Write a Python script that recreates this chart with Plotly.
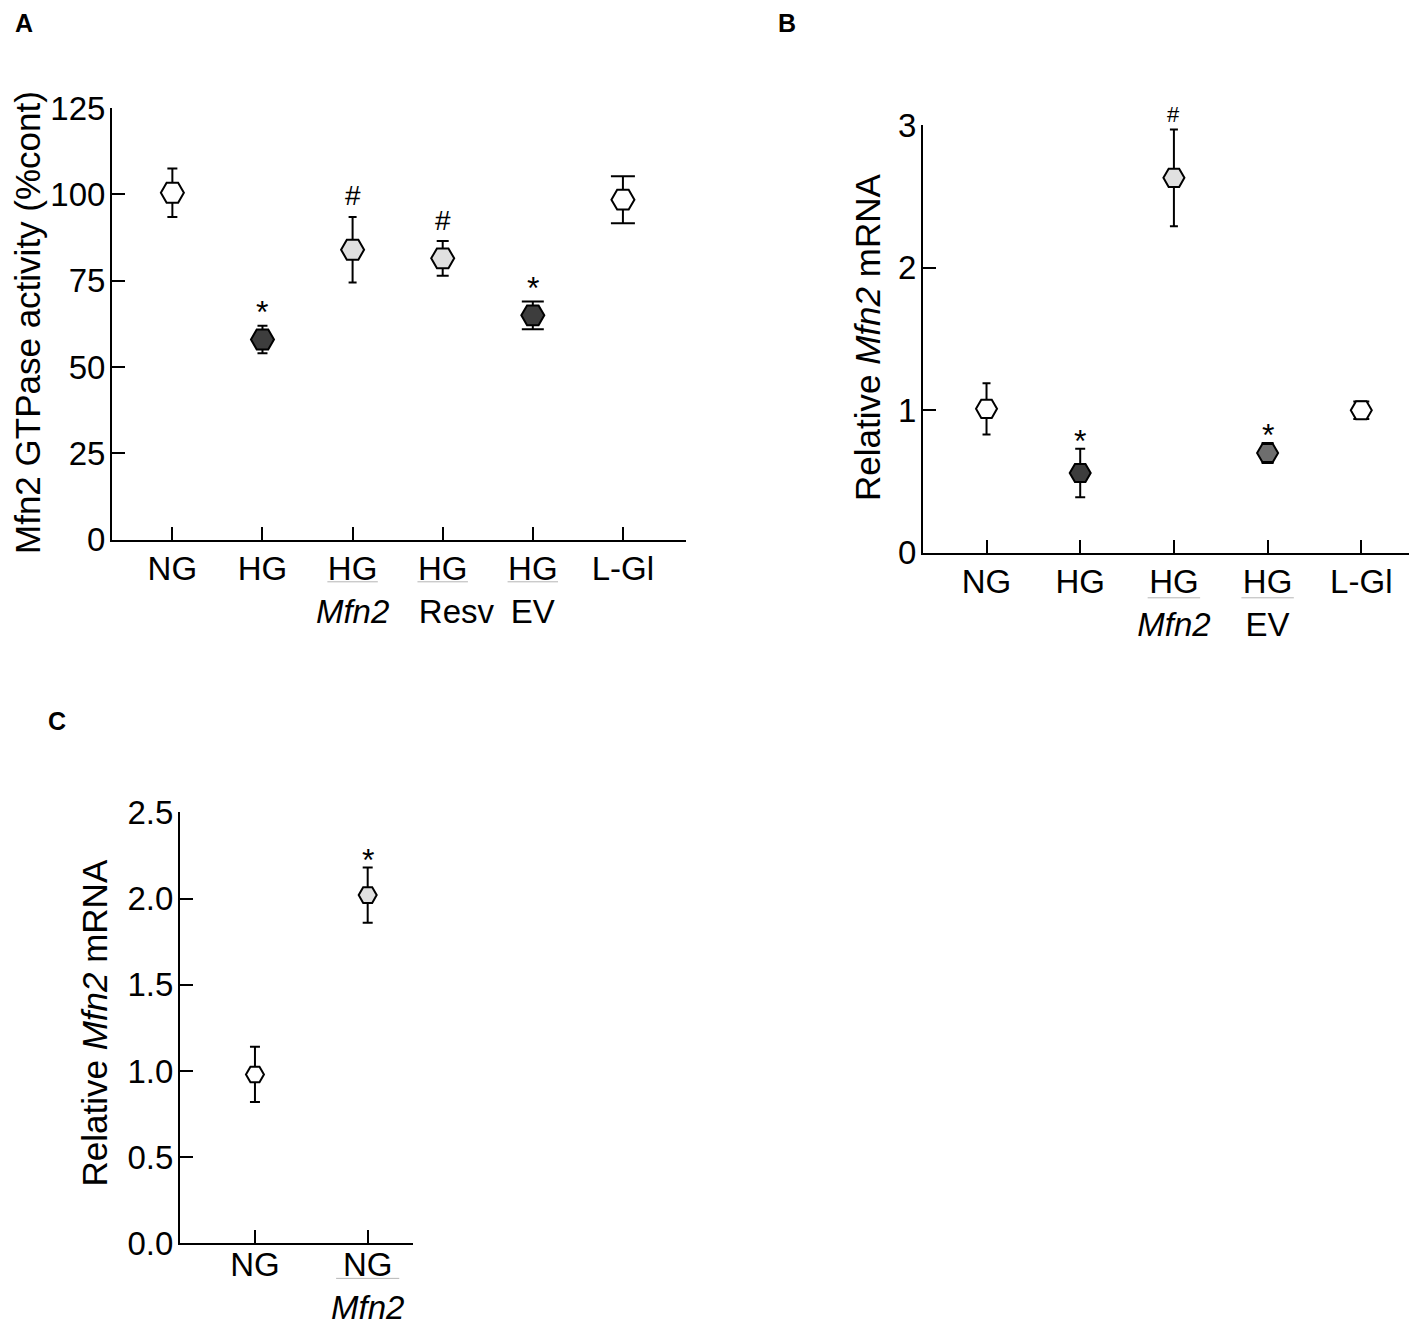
import plotly.graph_objects as go

# ---------------- data ----------------
a_labels = ["NG", "HG", "HG<br><i>Mfn2</i>", "HG<br>\u00a0\u00a0\u00a0Resv", "HG<br>EV", "L-Gl"]
a_mean = [100.5, 58.0, 84.0, 81.5, 65.0, 98.5]
a_err = [7.0, 4.0, 9.5, 5.0, 4.0, 6.8]
a_sig = ["", "*", "#", "#", "*", ""]

b_labels = ["NG", "HG", "HG<br><i>Mfn2</i>", "HG<br>EV", "L-Gl"]
b_mean = [1.01, 0.56, 2.63, 0.70, 1.00]
b_err = [0.18, 0.17, 0.34, 0.07, 0.062]
b_sig = ["", "*", "#", "*", ""]

c_labels = ["NG", "NG<br><i>Mfn2</i>"]
c_mean = [0.98, 2.02]
c_err = [0.16, 0.16]
c_sig = ["", "*"]

WHITE, DARK, LIGHT, MID = "#ffffff", "#3d3d3d", "#e0e0e0", "#6e6e6e"
a_col = [WHITE, DARK, LIGHT, LIGHT, DARK, WHITE]
b_col = [WHITE, DARK, LIGHT, MID, WHITE]
c_col = [WHITE, LIGHT]
a_cap = [5, 5, 4, 6, 11, 12]
b_cap = [4, 5, 4, 6, 8]
c_cap = [5, 5]

FONT = "Liberation Sans, Arial, sans-serif"
W, H = 1417, 1325
OFF = 8  # page body margin


def px(t):
    return (t - OFF) / W


def py(t):
    # map a target pixel row of the final picture to paper coordinates
    p = (t - 17.05) / 0.9727
    return 1 - (p - OFF) / H


fig = go.Figure()


def add_panel(xa, ya, means, errs, cols, caps, sigs, msize, star_shift, hash_shift, hash_size):
    for i, (m, e, c, cw, s) in enumerate(zip(means, errs, cols, caps, sigs)):
        fig.add_trace(go.Scatter(
            x=[i], y=[m], mode="markers", xaxis=xa, yaxis=ya,
            marker=dict(symbol="hexagon2", size=msize, color=c,
                        line=dict(color="black", width=2)),
            error_y=dict(type="data", array=[e], color="black",
                         thickness=2, width=cw),
            showlegend=False, cliponaxis=False))
        if s:
            is_star = s == "*"
            fig.add_annotation(x=i, y=m + e, xref=xa, yref=ya, text=s,
                               showarrow=False, yanchor="middle",
                               yshift=star_shift if is_star else hash_shift,
                               font=dict(family=FONT, size=32 if is_star else hash_size,
                                         color="black"))


add_panel("x", "y", a_mean, a_err, a_col, a_cap, a_sig, 23, 14, 21, 28)
add_panel("x2", "y2", b_mean, b_err, b_col, b_cap, b_sig, 21, 8, 15, 22)
add_panel("x3", "y3", c_mean, c_err, c_col, c_cap, c_sig, 18, 8, 15, 22)

tickfont = dict(family=FONT, size=33, color="black")


def xax(dom, rng, labels, anchor, standoff=-1):
    return dict(domain=dom, range=rng, anchor=anchor,
                tickvals=list(range(len(labels))), ticktext=labels,
                tickangle=0,
                ticks="inside", ticklen=13, tickwidth=2, tickcolor="black",
                showline=True, linecolor="black", linewidth=2,
                showgrid=False, zeroline=False, tickfont=tickfont,
                ticklabelstandoff=standoff)


def yax(dom, rng, vals, text, anchor):
    return dict(domain=dom, range=rng, anchor=anchor,
                tickvals=vals, ticktext=text,
                ticks="inside", ticklen=13, tickwidth=2, tickcolor="black",
                showline=True, linecolor="black", linewidth=2,
                showgrid=False, zeroline=False, tickfont=tickfont,
                ticklabelstandoff=-2)


fig.update_layout(
    width=W, height=H, margin=dict(l=0, r=0, t=0, b=0),
    paper_bgcolor="white", plot_bgcolor="white",
    font=dict(family=FONT, color="black"),
    xaxis=xax([px(112), px(686)], [-0.67, 5.70], a_labels, "y"),
    yaxis=yax([py(539), py(107)], [0, 125], [0, 25, 50, 75, 100, 125],
              ["0", "25", "50", "75", "100", "125"], "x"),
    xaxis2=xax([px(923), 1.0], [-0.678, 4.68], b_labels, "y2"),
    yaxis2=yax([py(552), py(124)], [0, 3], [0, 1, 2, 3],
               ["0", "1", "2", "3"], "x2"),
    xaxis3=xax([px(180), px(413)], [-0.665, 1.402], c_labels, "y3", standoff=-9),
    yaxis3=yax([py(1243), py(811.7)], [0, 2.5], [0, 0.5, 1, 1.5, 2, 2.5],
               ["0.0", "0.5", "1.0", "1.5", "2.0", "2.5"], "x3"),
)

# axis titles
titles = [
    ("Mfn2 GTPase activity (%cont)", 28, 322),
    ("Relative <i>Mfn2</i> mRNA", 868, 337),
    ("Relative <i>Mfn2</i> mRNA", 95, 1023),
]
for t, x0, y0 in titles:
    fig.add_annotation(text=t, x=px(x0), y=py(y0), xref="paper", yref="paper",
                       textangle=-90, showarrow=False, xanchor="center",
                       yanchor="middle", font=dict(family=FONT, size=35, color="black"))

# panel letters
for t, x0, y0 in [("A", 24, 22), ("B", 787, 22), ("C", 57, 720)]:
    fig.add_annotation(text="<b>" + t + "</b>", x=px(x0), y=py(y0),
                       xref="paper", yref="paper", showarrow=False,
                       xanchor="center", yanchor="middle",
                       font=dict(family=FONT, size=25, color="black"))

# light underline below treatment group labels
for xa, idxs, yp in [("x", [2, 3, 4], 581), ("x2", [2, 3], 597), ("x3", [1], 1278)]:
    for i in idxs:
        fig.add_shape(type="line", xref=xa, yref="paper", x0=i - 0.28, x1=i + 0.28,
                      y0=py(yp), y1=py(yp),
                      line=dict(color="#b5b5b5", width=1))

fig.write_html("out.html")
